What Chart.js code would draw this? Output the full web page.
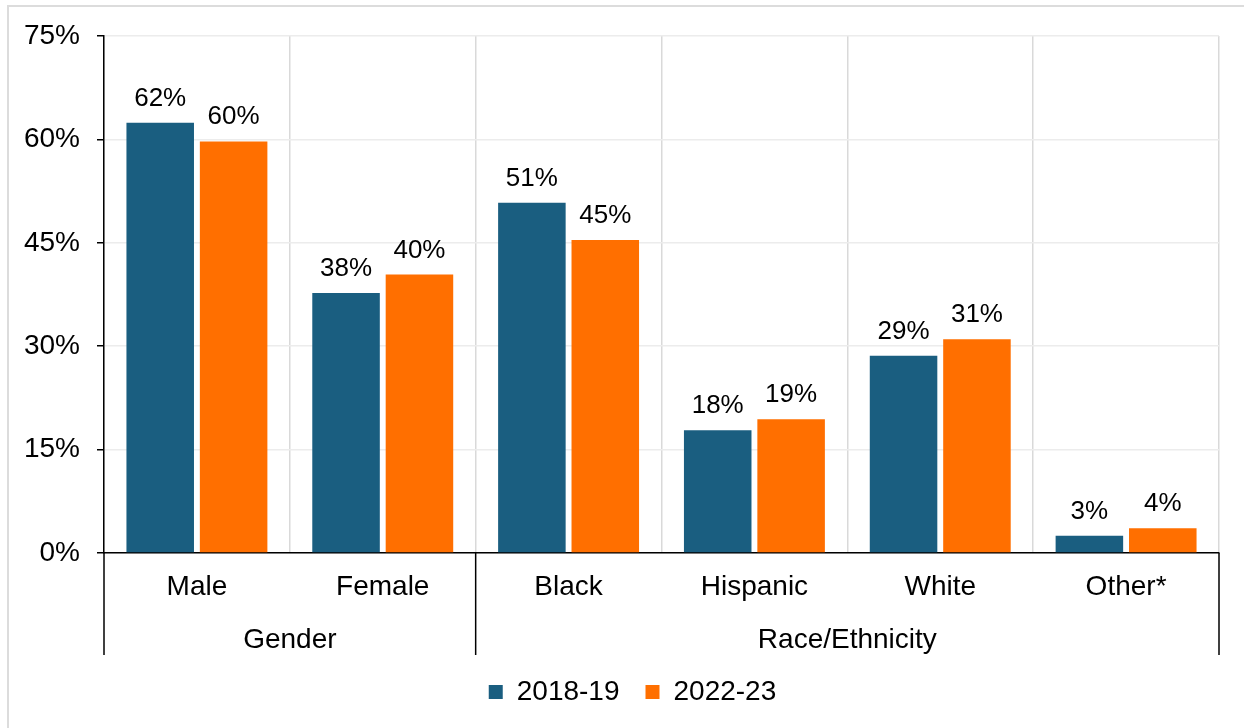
<!DOCTYPE html>
<html>
<head>
<meta charset="utf-8">
<script src="https://cdn.jsdelivr.net/npm/chart.js@4.4.0/dist/chart.umd.js"></script>
<style>
    html, body { margin: 0; padding: 0; background: #ffffff; }
    #wrap { position: relative; width: 1244px; height: 728px; }
</style>
</head>
<body>
<div id="wrap"><canvas id="demoChart" width="1244" height="728"></canvas></div>
<script>
// Chart data
const categories = ['Male', 'Female', 'Black', 'Hispanic', 'White', 'Other*'];
const groupLabels = ['Gender', 'Race/Ethnicity'];
const groupSizes = [2, 4];
const seriesNames = ['2018-19', '2022-23'];
const values2018 = [62.4, 37.7, 50.8, 17.8, 28.6, 2.5];
const values2022 = [59.7, 40.4, 45.4, 19.4, 31.0, 3.6];
const yTicks = [0, 15, 30, 45, 60, 75];

const FONT = "'Liberation Sans', Arial, sans-serif";
const BLUE = '#1a5e80';
const ORANGE = '#ff6f00';

// Outer frame (only left and top edges show)
const framePlugin = {
    id: 'frame',
    beforeDraw(chart) {
        const ctx = chart.ctx;
        ctx.save();
        ctx.strokeStyle = '#dcdcdc';
        ctx.lineWidth = 2;
        ctx.beginPath();
        ctx.moveTo(8, chart.height);
        ctx.lineTo(8, 6);
        ctx.lineTo(chart.width, 6);
        ctx.stroke();
        ctx.restore();
    }
};

// Nudge the legend a bit right of the canvas centre
const legendShift = {
    id: 'legendShift',
    afterLayout(chart) {
        if (!chart.legend) return;
        chart.legend.left += 18;
        chart.legend.right += 18;
    }
};

// Percent labels above each bar
const valueLabels = {
    id: 'valueLabels',
    afterDatasetsDraw(chart) {
        const ctx = chart.ctx;
        ctx.save();
        ctx.font = '26px ' + FONT;
        ctx.fillStyle = '#000000';
        ctx.textAlign = 'center';
        ctx.textBaseline = 'alphabetic';
        chart.data.datasets.forEach((ds, di) => {
            chart.getDatasetMeta(di).data.forEach((bar, i) => {
                ctx.fillText(Math.round(ds.data[i]) + '%', bar.x, bar.y - 17);
            });
        });
        ctx.restore();
    }
};

// Group separators and group captions under the category labels
const groupAxis = {
    id: 'groupAxis',
    afterDraw(chart) {
        const ctx = chart.ctx;
        const x = chart.scales.x;
        const bottom = chart.chartArea.bottom;
        const step = (x.right - x.left) / categories.length;
        ctx.save();
        ctx.strokeStyle = '#000000';
        ctx.lineWidth = 1.5;
        ctx.font = '28px ' + FONT;
        ctx.fillStyle = '#000000';
        ctx.textAlign = 'center';
        ctx.textBaseline = 'alphabetic';
        let start = 0;
        const edges = [x.left];
        groupSizes.forEach((n, g) => {
            const x0 = x.left + start * step;
            const x1 = x.left + (start + n) * step;
            edges.push(x1);
            ctx.fillText(groupLabels[g], (x0 + x1) / 2, 648);
            start += n;
        });
        edges.forEach(ex => {
            ctx.beginPath();
            ctx.moveTo(ex, bottom);
            ctx.lineTo(ex, 655);
            ctx.stroke();
        });
        ctx.restore();
    }
};

new Chart(document.getElementById('demoChart'), {
    type: 'bar',
    data: {
        labels: categories,
        datasets: [{
            label: seriesNames[0],
            data: values2018,
            backgroundColor: BLUE,
            categoryPercentage: 0.79,
            barPercentage: 0.92
        }, {
            label: seriesNames[1],
            data: values2022,
            backgroundColor: ORANGE,
            categoryPercentage: 0.79,
            barPercentage: 0.92
        }]
    },
    options: {
        responsive: false,
        animation: false,
        layout: {
            padding: { left: 10, right: 25, top: 36, bottom: 12 }
        },
        plugins: {
            legend: {
                position: 'bottom',
                labels: {
                    boxWidth: 14,
                    boxHeight: 14,
                    padding: 26,
                    color: '#000000',
                    font: { size: 28, family: FONT }
                }
            },
            tooltip: { enabled: false }
        },
        scales: {
            x: {
                afterFit(scale) { scale.height = 99; },
                grid: {
                    offset: true,
                    color: '#d9d9d9',
                    lineWidth: 1.5,
                    drawTicks: false
                },
                border: { color: '#000000', width: 1.5 },
                ticks: {
                    padding: 17,
                    color: '#000000',
                    font: { size: 28, family: FONT }
                }
            },
            y: {
                min: 0,
                max: 75,
                afterFit(scale) { scale.width = 94; },
                afterBuildTicks(scale) {
                    scale.ticks = yTicks.map(v => ({ value: v }));
                },
                grid: {
                    color: '#ececec',
                    lineWidth: 1.5,
                    tickColor: '#000000',
                    tickLength: 7
                },
                border: { color: '#000000', width: 1.5 },
                ticks: {
                    padding: 17,
                    color: '#000000',
                    font: { size: 28, family: FONT },
                    callback: v => v + '%'
                }
            }
        }
    },
    plugins: [framePlugin, legendShift, valueLabels, groupAxis]
});
</script>
</body>
</html>
